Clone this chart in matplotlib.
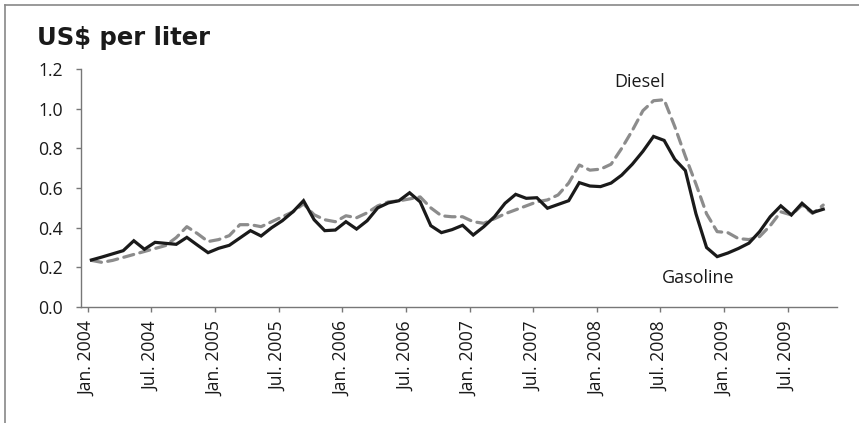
import matplotlib
matplotlib.use("Agg")
import matplotlib.pyplot as plt
from matplotlib.lines import Line2D
import numpy as np

plt.rcParams['font.family'] = ['Open Sans', 'DejaVu Sans']

tick_labels = ["Jan. 2004", "Jul. 2004", "Jan. 2005", "Jul. 2005", "Jan. 2006", "Jul. 2006",
               "Jan. 2007", "Jul. 2007", "Jan. 2008", "Jul. 2008", "Jan. 2009", "Jul. 2009"]

gasoline = [0.237, 0.252, 0.268, 0.284, 0.334, 0.291, 0.326, 0.321, 0.316, 0.351,
            0.312, 0.274, 0.296, 0.311, 0.348, 0.385, 0.358, 0.400, 0.435, 0.480,
            0.536, 0.440, 0.385, 0.388, 0.430, 0.393, 0.435, 0.500, 0.525, 0.536,
            0.576, 0.530, 0.410, 0.375, 0.390, 0.412, 0.363, 0.405, 0.455, 0.523,
            0.568, 0.548, 0.551, 0.498, 0.517, 0.536, 0.627, 0.610, 0.607, 0.625,
            0.665, 0.720, 0.785, 0.860, 0.840, 0.745, 0.688, 0.470, 0.300, 0.254,
            0.272, 0.295, 0.322, 0.380, 0.455, 0.510, 0.464, 0.523, 0.476, 0.493]

diesel = [0.235, 0.225, 0.235, 0.250, 0.265, 0.280, 0.295, 0.310, 0.350, 0.405,
          0.370, 0.330, 0.340, 0.360, 0.415, 0.415, 0.405, 0.430, 0.455, 0.480,
          0.520, 0.465, 0.440, 0.430, 0.460, 0.450, 0.475, 0.510, 0.530, 0.535,
          0.545, 0.555, 0.500, 0.460, 0.455, 0.455, 0.430, 0.422, 0.445, 0.470,
          0.490, 0.510, 0.530, 0.540, 0.565, 0.625, 0.716, 0.690, 0.695, 0.720,
          0.800, 0.890, 0.990, 1.040, 1.045, 0.910, 0.760, 0.620, 0.470, 0.380,
          0.375, 0.345, 0.340, 0.355, 0.410, 0.480, 0.464, 0.514, 0.472, 0.514]

W, H = 859, 423
fig = plt.figure(figsize=(W / 100, H / 100), dpi=100)
ax = fig.add_axes([81 / W, 1 - 307 / H, (836.7 - 81) / W, (307 - 69) / H])

x = np.arange(len(gasoline)) + 0.35
ax.plot(x, diesel, color='#8c8c8c', lw=2.3, dashes=(3.2, 2.0), solid_joinstyle='round',
        dash_joinstyle='round', dash_capstyle='round')
ax.plot(x, gasoline, color='#1a1a1a', lw=2.3, solid_joinstyle='miter')

ax.set_xlim(-0.63, 70.62)
ax.set_ylim(0, 1.2)
ax.set_yticks(np.arange(0, 1.21, 0.2))
ax.set_yticklabels([f"{v:.1f}" for v in np.arange(0, 1.21, 0.2)])
ax.set_xticks(np.arange(0, 6 * len(tick_labels), 6))
ax.set_xticklabels(tick_labels, rotation=90)

for s in ['top', 'right']:
    ax.spines[s].set_visible(False)
for s in ['left', 'bottom']:
    ax.spines[s].set_color('#777777')
    ax.spines[s].set_linewidth(1.0)
ax.tick_params(axis='both', direction='out', length=3.8, width=1.0, color='#777777',
               labelsize=12.7, labelcolor='#1a1a1a')
ax.tick_params(axis='y', pad=9)
ax.tick_params(axis='x', pad=6.5)

fig.text(640 / W, 1 - 86.7 / H, "Diesel", ha='center', va='baseline',
         fontsize=13, color='#1a1a1a')
fig.text(698 / W, 1 - 283.3 / H, "Gasoline", ha='center', va='baseline',
         fontsize=13, color='#1a1a1a')

fig.text(37 / W, 1 - 45 / H, "US$ per liter", ha='left', va='baseline', fontsize=17.5,
         fontweight='bold', family=['DejaVu Sans'], color='#1a1a1a')

fig.add_artist(Line2D([5 / W, 5 / W], [0, 1 - 5 / H], transform=fig.transFigure,
                      color='#888888', lw=1.2))
fig.add_artist(Line2D([5 / W, 1], [1 - 5 / H, 1 - 5 / H], transform=fig.transFigure,
                      color='#888888', lw=1.2))

fig.savefig("out.png", dpi=100)
